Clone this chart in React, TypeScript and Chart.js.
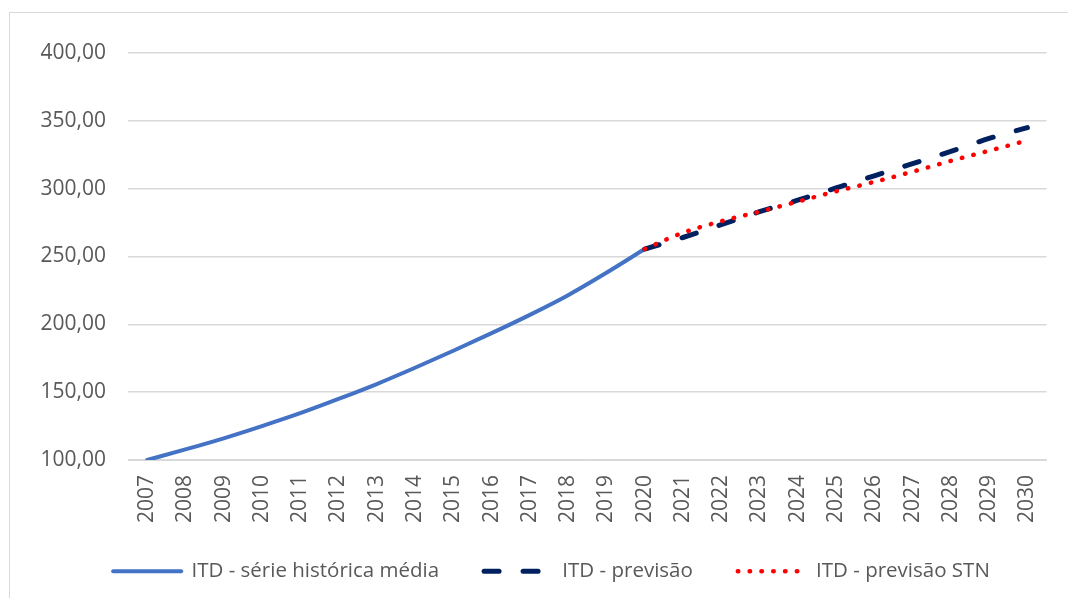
import React, { useEffect, useRef } from "react";
import { Chart, registerables } from "chart.js";

Chart.register(...registerables);

const years = [
  "2007", "2008", "2009", "2010", "2011", "2012", "2013", "2014", "2015", "2016", "2017", "2018",
  "2019", "2020", "2021", "2022", "2023", "2024", "2025", "2026", "2027", "2028", "2029", "2030",
];

const historica = [
  100, 107.8, 116, 125, 134.5, 145, 156, 168, 180.5, 193.5, 207, 221.5, 238, 255.5,
  null, null, null, null, null, null, null, null, null, null,
];

const previsao = [
  null, null, null, null, null, null, null, null, null, null, null, null, null,
  255.5, 264, 273.5, 283, 291.5, 300.5, 309.5, 318.5, 327.5, 337, 345,
];

const previsaoSTN = [
  null, null, null, null, null, null, null, null, null, null, null, null, null,
  255.5, 267.5, 276, 283, 290.5, 298, 305, 312.5, 320.5, 328, 335.5,
];

const seriesLabels = ["ITD - série histórica média", "ITD - previsão", "ITD - previsão STN"];

const yMin = 100;
const yMax = 400;
const yStep = 50;

const TEXT = "#595959";
const GRID = "#d9d9d9";
const FONT = "'Open Sans', sans-serif";

const legendShift = {
  id: "legendShift",
  afterLayout(chart: any) {
    const lg = chart.legend;
    if (lg) {
      lg.left = 55;
      lg.top = 516;
      lg.bottom = chart.height;
      lg.height = chart.height - 516;
    }
  },
};

export default function App() {
  const canvasRef = useRef<HTMLCanvasElement | null>(null);

  useEffect(() => {
    const canvas = canvasRef.current;
    if (!canvas) return;
    const chart = new Chart(canvas, {
      type: "line",
      plugins: [legendShift],
      data: {
        labels: years,
        datasets: [
          {
            label: seriesLabels[0],
            data: historica,
            borderColor: "#4472C4",
            backgroundColor: "#4472C4",
            borderWidth: 4,
            pointRadius: 0,
            cubicInterpolationMode: "monotone",
            borderCapStyle: "round",
            order: 2,
          },
          {
            label: seriesLabels[1],
            data: previsao,
            borderColor: "#002060",
            backgroundColor: "#002060",
            borderWidth: 5,
            borderDash: [15, 24],
            borderCapStyle: "round",
            pointRadius: 0,
            cubicInterpolationMode: "monotone",
            order: 1,
          },
          {
            label: seriesLabels[2],
            data: previsaoSTN,
            borderColor: "#FF0000",
            backgroundColor: "#FF0000",
            borderWidth: 4.5,
            borderDash: [0.5, 11.3],
            borderCapStyle: "round",
            pointRadius: 0,
            cubicInterpolationMode: "monotone",
            order: 0,
          },
        ],
      },
      options: {
        animation: false,
        responsive: false,
        devicePixelRatio: 1,
        layout: { padding: { left: 30, top: 53, right: 20, bottom: 7 } },
        font: { family: FONT, size: 21 },
        plugins: {
          tooltip: { enabled: false },
          legend: {
            position: "bottom",
            maxHeight: 56,
            labels: {
              usePointStyle: true,
              pointStyle: "line",
              pointStyleWidth: 68,
              padding: 45,
              color: TEXT,
              font: { family: FONT, size: 20.5 },
              generateLabels: (c: any) =>
                c.data.datasets.map((ds: any, i: number) => ({
                  text: ds.label,
                  fillStyle: ds.borderColor,
                  strokeStyle: ds.borderColor,
                  lineWidth: ds.borderWidth,
                  lineDash: ds.borderDash || [],
                  lineDashOffset: 0,
                  lineCap: "round",
                  pointStyle: "line",
                  fontColor: TEXT,
                  hidden: false,
                  datasetIndex: i,
                })),
            },
          },
        },
        scales: {
          x: {
            offset: true,
            grid: { display: false, drawTicks: false },
            border: { display: true, color: GRID, width: 1 },
            ticks: {
              minRotation: 90,
              maxRotation: 90,
              autoSkip: false,
              padding: 15,
              color: TEXT,
              font: { family: FONT, size: 21 },
            },
            afterFit: (scale: any) => {
              scale.height = 75;
            },
          },
          y: {
            min: yMin,
            max: yMax,
            grid: { color: GRID, lineWidth: 1.5, drawTicks: false },
            border: { display: false },
            ticks: {
              stepSize: yStep,
              padding: 22,
              color: TEXT,
              font: { family: FONT, size: 21 },
              callback: (v: any) => Number(v).toFixed(2).replace(".", ","),
            },
            afterFit: (scale: any) => {
              scale.width = 98;
            },
          },
        },
      },
    });
    return () => chart.destroy();
  }, []);

  return (
    <div style={{ position: "fixed", left: 0, top: 0, width: 1068, height: 598, overflow: "hidden", background: "#fff" }}>
      <div
        style={{
          position: "absolute",
          left: 9,
          top: 12,
          width: 1080,
          height: 620,
          border: "1.5px solid #d9d9d9",
          boxSizing: "border-box",
        }}
      />
      <canvas
        ref={canvasRef}
        width={1068}
        height={598}
        style={{ position: "absolute", left: 0, top: 0, width: 1068, height: 598 }}
      />
    </div>
  );
}
